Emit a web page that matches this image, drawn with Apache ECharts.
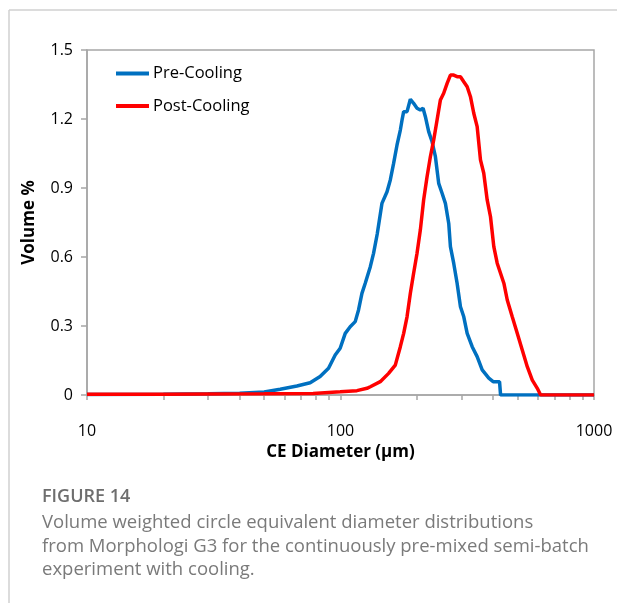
<!DOCTYPE html>
<html>
<head>
<meta charset="utf-8">
<script src="https://cdn.jsdelivr.net/npm/echarts@6/dist/echarts.min.js"></script>
<style>
html,body{margin:0;padding:0;background:#fff;}
#chart{width:617px;height:603px;}
</style>
</head>
<body>
<div id="chart"></div>
<script>
// Pre-Cooling (blue)
var preDiam = [10, 20, 30, 40, 50, 57.8, 67.3, 75.9, 83.1, 89.7, 95.3, 99.7, 104.4, 109.2, 114.3, 117.8, 121.5, 125.2, 131.1, 135.0, 139.6, 145.7, 152.6, 157.2, 162.0, 167.1, 172.2, 174.9, 177.5, 183.0, 188.6, 194.3, 200.4, 206.5, 211.7, 216.2, 222.8, 229.8, 236.8, 244.0, 251.6, 259.3, 267.3, 271.4, 279.6, 288.4, 297.3, 306.4, 316.0, 330.7, 346.0, 362.2, 384.6, 400, 424, 428, 1000];
var preVol  = [0.002, 0.003, 0.005, 0.008, 0.013, 0.025, 0.039, 0.053, 0.080, 0.116, 0.174, 0.203, 0.268, 0.297, 0.319, 0.370, 0.442, 0.486, 0.558, 0.616, 0.700, 0.833, 0.884, 0.935, 1.007, 1.087, 1.152, 1.196, 1.232, 1.232, 1.286, 1.268, 1.247, 1.239, 1.247, 1.210, 1.145, 1.101, 1.036, 0.920, 0.877, 0.833, 0.746, 0.645, 0.573, 0.486, 0.384, 0.340, 0.268, 0.210, 0.167, 0.109, 0.073, 0.058, 0.058, 0, 0];
// Post-Cooling (red)
var postDiam = [10, 20, 30, 50, 78.0, 99.7, 116.1, 127.2, 131.1, 143.5, 154.8, 164.5, 172.2, 177.5, 183.0, 188.6, 194.3, 200.4, 206.5, 212.8, 219.5, 226.2, 233.2, 240.4, 247.8, 255.3, 263.4, 271.4, 279.6, 288.4, 297.3, 306.4, 316.0, 325.6, 335.5, 346.0, 356.6, 367.4, 379.0, 390.6, 402.5, 415.1, 441.0, 454.8, 475.9, 498.0, 521.2, 545.5, 570.9, 597.5, 615.7, 1000];
var postVol  = [0.003, 0.003, 0.004, 0.005, 0.007, 0.014, 0.019, 0.029, 0.036, 0.058, 0.094, 0.130, 0.210, 0.268, 0.340, 0.442, 0.529, 0.616, 0.717, 0.848, 0.949, 1.036, 1.109, 1.196, 1.283, 1.312, 1.355, 1.391, 1.391, 1.384, 1.384, 1.362, 1.340, 1.297, 1.225, 1.167, 1.022, 0.964, 0.848, 0.775, 0.645, 0.573, 0.486, 0.413, 0.340, 0.268, 0.196, 0.123, 0.065, 0.029, 0, 0];

var xTickValues = [10,20,30,40,50,60,70,80,90,100,200,300,400,500,600,700,800,900,1000];
var xLabelValues = [10, 100, 1000];
var seriesNames = ['Pre-Cooling', 'Post-Cooling'];

function pairs(xs, ys) { return xs.map(function (x, i) { return [x, ys[i]]; }); }

var FONT = 'Open Sans';
var chart = echarts.init(document.getElementById('chart'));
chart.setOption({
  animation: false,
  backgroundColor: '#fff',
  grid: { left: 87, right: 23, top: 50, bottom: 208, show: true, borderColor: '#a6a6a6', borderWidth: 1.5, backgroundColor: 'transparent' },
  legend: {
    orient: 'vertical', left: 116, top: 65, itemGap: 15.5, padding: 0,
    itemWidth: 33, itemHeight: 4, icon: 'rect',
    textStyle: { fontFamily: FONT, fontSize: 16.5, color: '#000', padding: [0, 0, 0, -1] },
    data: seriesNames
  },
  xAxis: {
    type: 'log', logBase: 10, min: 10, max: 1000,
    name: 'CE Diameter (µm)', nameLocation: 'middle', nameGap: 48,
    nameTextStyle: { fontFamily: FONT, fontSize: 17, fontWeight: 'bold', color: '#000' },
    axisLine: { show: true, lineStyle: { color: '#a6a6a6', width: 1.5 } },
    axisTick: { show: true, length: 5, customValues: xTickValues, lineStyle: { color: '#a6a6a6', width: 1.5 } },
    axisLabel: { customValues: xLabelValues, margin: 28, fontFamily: FONT, fontSize: 16, color: '#000',
      formatter: function (v) { return String(Math.round(v)); } },
    splitLine: { show: false }, minorTick: { show: false }
  },
  yAxis: {
    type: 'value', min: 0, max: 1.5, interval: 0.3,
    name: 'Volume %', nameLocation: 'middle', nameGap: 49, nameRotate: 90,
    nameTextStyle: { fontFamily: FONT, fontSize: 17, fontWeight: 'bold', color: '#000' },
    axisLine: { show: true, lineStyle: { color: '#a6a6a6', width: 1.5 } },
    axisTick: { show: true, length: 6, lineStyle: { color: '#a6a6a6', width: 1.5 } },
    axisLabel: { margin: 14, fontFamily: FONT, fontSize: 16, color: '#000',
      formatter: function (v) { return v === 0 ? '0' : v.toFixed(1); } },
    splitLine: { show: false }
  },
  series: [
    { name: seriesNames[0], type: 'line', data: pairs(preDiam, preVol), showSymbol: false, symbol: 'none',
      color: '#0070C0', lineStyle: { color: '#0070C0', width: 3.5 } },
    { name: seriesNames[1], type: 'line', data: pairs(postDiam, postVol), showSymbol: false, symbol: 'none',
      color: '#FF0000', lineStyle: { color: '#FF0000', width: 3.5 } }
  ],
  graphic: [
    { type: 'line', shape: { x1: 9, y1: 10, x2: 617, y2: 10 }, style: { stroke: '#d0d0d0', lineWidth: 1.5 } },
    { type: 'line', shape: { x1: 9, y1: 10, x2: 9, y2: 603 }, style: { stroke: '#d0d0d0', lineWidth: 1.5 } },
    { type: 'text', left: 42, top: 488, style: { text: 'FIGURE 14', fontFamily: FONT, fontSize: 18, fontWeight: 600, fill: '#6e6e6e' } },
    { type: 'text', left: 42, top: 511, style: {
      text: 'Volume weighted circle equivalent diameter distributions\nfrom Morphologi G3 for the continuously pre-mixed semi-batch\nexperiment with cooling.',
      fontFamily: FONT, fontSize: 18.5, lineHeight: 23.5, fill: '#7a7a7a' } }
  ]
});
</script>
</body>
</html>
